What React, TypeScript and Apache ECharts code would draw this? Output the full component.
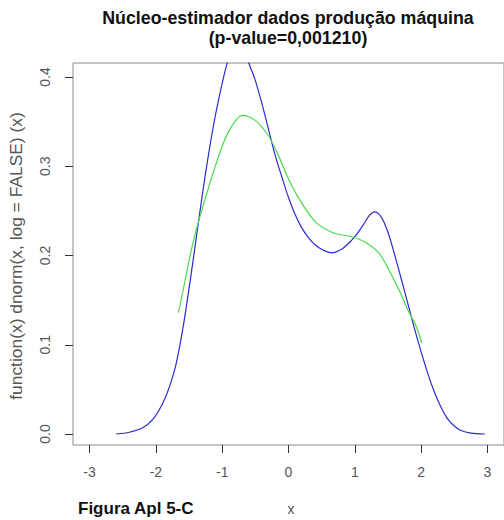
import React, { useEffect, useRef } from "react";
import * as echarts from "echarts";

const xTicks = [-3, -2, -1, 0, 1, 2, 3];
const yTicks = [0, 0.1, 0.2, 0.3, 0.4];

const blueX = [-2.6, -2.4, -2.2, -2.05, -1.9, -1.8, -1.7, -1.6, -1.5, -1.4, -1.3, -1.2, -1.1, -1.0, -0.92, -0.84, -0.76, -0.68, -0.6, -0.5, -0.4, -0.3, -0.2, -0.1, 0.0, 0.1, 0.2, 0.3, 0.4, 0.5, 0.65, 0.8, 0.95, 1.05, 1.15, 1.22, 1.3, 1.4, 1.5, 1.6, 1.7, 1.8, 1.9, 2.0, 2.1, 2.2, 2.3, 2.4, 2.5, 2.6, 2.75, 2.96];
const blueY = [0.0, 0.002, 0.007, 0.016, 0.034, 0.052, 0.077, 0.115, 0.163, 0.215, 0.268, 0.316, 0.358, 0.393, 0.417, 0.434, 0.441, 0.433, 0.416, 0.396, 0.370, 0.341, 0.312, 0.288, 0.265, 0.246, 0.231, 0.220, 0.212, 0.207, 0.203, 0.207, 0.217, 0.226, 0.237, 0.245, 0.249, 0.243, 0.226, 0.201, 0.174, 0.146, 0.118, 0.092, 0.068, 0.047, 0.030, 0.017, 0.009, 0.004, 0.001, 0.0];

const greenX = [-1.66, -1.63, -1.46, -1.33, -1.1, -0.91, -0.69, -0.51, -0.31, -0.17, 0.03, 0.24, 0.43, 0.69, 0.96, 1.18, 1.37, 1.52, 1.67, 1.8, 1.93, 2.01];
const greenY = [0.136, 0.146, 0.208, 0.245, 0.301, 0.338, 0.357, 0.352, 0.335, 0.315, 0.281, 0.254, 0.236, 0.225, 0.221, 0.214, 0.202, 0.183, 0.161, 0.139, 0.12, 0.102];

const titleLine1 = "Núcleo-estimador dados produção máquina";
const titleLine2 = "(p-value=0,001210)";
const yName = "function(x) dnorm(x, log = FALSE) (x)";
const xName = "x";
const figLabel = "Figura Apl 5-C";

const FONT = "'Liberation Sans', Arial, sans-serif";

export default function App() {
  const ref = useRef<HTMLDivElement>(null);
  useEffect(() => {
    if (!ref.current) return;
    const chart = echarts.init(ref.current, null, { renderer: "svg" });
    chart.setOption({
      animation: false,
      backgroundColor: "#ffffff",
      grid: {
        left: 73,
        top: 63,
        width: 435.5,
        height: 382,
        show: true,
        borderColor: "#8a8a8a",
        borderWidth: 1,
        backgroundColor: "transparent",
      },
      xAxis: {
        type: "value",
        min: -3.25,
        max: 3.25,
        axisLine: { show: false, onZero: false },
        splitLine: { show: false },
        axisTick: {
          show: true,
          customValues: xTicks,
          length: 8,
          lineStyle: { color: "#333", width: 1 },
        },
        axisLabel: {
          customValues: xTicks,
          margin: 20,
          fontFamily: FONT,
          fontSize: 14,
          color: "#555",
        },
      },
      yAxis: {
        type: "value",
        min: -0.0123,
        max: 0.4157,
        axisLine: { show: false, onZero: false },
        splitLine: { show: false },
        axisTick: {
          show: true,
          customValues: yTicks,
          length: 8,
          lineStyle: { color: "#333", width: 1 },
        },
        axisLabel: {
          customValues: yTicks,
          rotate: 90,
          margin: 21,
          fontFamily: FONT,
          fontSize: 14,
          color: "#555",
          formatter: (v: number) => v.toFixed(1),
        },
      },
      series: [
        {
          type: "line",
          data: blueX.map((x, i) => [x, blueY[i]]),
          showSymbol: false,
          smooth: 0.3,
          clip: true,
          lineStyle: { color: "#2b2bcf", width: 1.2 },
        },
        {
          type: "line",
          data: greenX.map((x, i) => [x, greenY[i]]),
          showSymbol: false,
          smooth: 0.3,
          clip: true,
          lineStyle: { color: "#4ad94a", width: 1.2 },
        },
      ],
      graphic: [
        {
          type: "text",
          x: 288,
          y: 18,
          style: {
            text: titleLine1,
            font: `bold 17.8px ${FONT}`,
            fill: "#111",
            align: "center",
            verticalAlign: "middle",
          },
        },
        {
          type: "text",
          x: 288,
          y: 38,
          style: {
            text: titleLine2,
            font: `bold 17.8px ${FONT}`,
            fill: "#111",
            align: "center",
            verticalAlign: "middle",
          },
        },
        {
          type: "text",
          x: 16,
          y: 256,
          rotation: Math.PI / 2,
          style: {
            text: yName,
            font: `17.4px ${FONT}`,
            fill: "#555",
            align: "center",
            verticalAlign: "middle",
          },
        },
        {
          type: "text",
          x: 291,
          y: 509,
          style: {
            text: xName,
            font: `14px ${FONT}`,
            fill: "#555",
            align: "center",
            verticalAlign: "middle",
          },
        },
        {
          type: "text",
          x: 78,
          y: 508,
          style: {
            text: figLabel,
            font: `bold 17px ${FONT}`,
            fill: "#111",
            align: "left",
            verticalAlign: "middle",
          },
        },
      ],
    });
    return () => chart.dispose();
  }, []);
  return (
    <div
      ref={ref}
      style={{ position: "fixed", left: 0, top: 0, width: 504, height: 520 }}
    />
  );
}
